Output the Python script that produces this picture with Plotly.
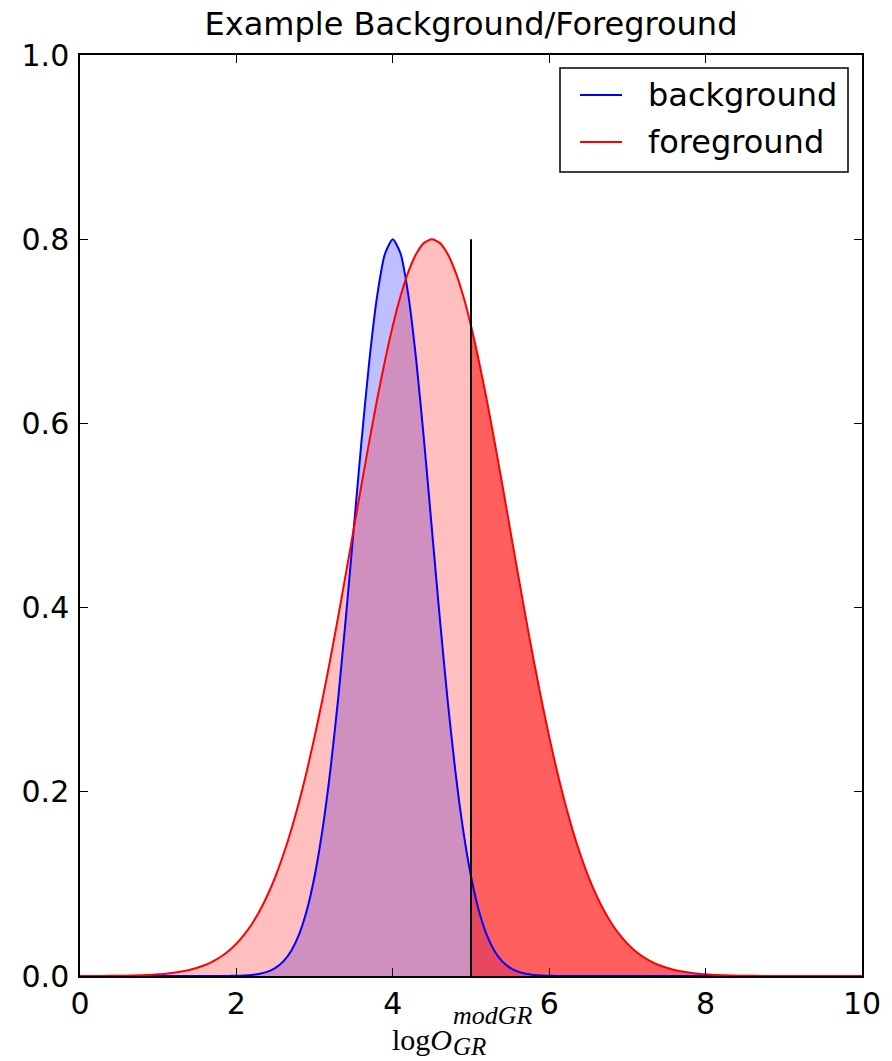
import plotly.graph_objects as go

# ---- data ----
x_vals = [0.0, 0.1, 0.2, 0.3, 0.4, 0.5, 0.6, 0.7, 0.8, 0.9,
          1.0, 1.1, 1.2, 1.3, 1.4, 1.5, 1.6, 1.7, 1.8, 1.9,
          2.0, 2.1, 2.2, 2.3, 2.4, 2.5, 2.6, 2.7, 2.8, 2.9,
          3.0, 3.1, 3.2, 3.3, 3.4, 3.5, 3.6, 3.7, 3.8, 3.9,
          4.0, 4.1, 4.2, 4.3, 4.4, 4.5, 4.6, 4.7, 4.8, 4.9,
          5.0, 5.1, 5.2, 5.3, 5.4, 5.5, 5.6, 5.7, 5.8, 5.9,
          6.0, 6.1, 6.2, 6.3, 6.4, 6.5, 6.6, 6.7, 6.8, 6.9,
          7.0, 7.1, 7.2, 7.3, 7.4, 7.5, 7.6, 7.7, 7.8, 7.9,
          8.0, 8.1, 8.2, 8.3, 8.4, 8.5, 8.6, 8.7, 8.8, 8.9,
          9.0, 9.1, 9.2, 9.3, 9.4, 9.5, 9.6, 9.7, 9.8, 9.9,
          10.0]
background = [0, 0, 0, 0, 0, 0, 0, 0, 0, 0,
              0, 0, 0, 0, 0, 0, 0, 0, 0, 0.0001,
              0.0003, 0.0006, 0.0012, 0.0025, 0.0048, 0.0089, 0.0159, 0.0272, 0.0449, 0.0711,
              0.1083, 0.1583, 0.2224, 0.3002, 0.3894, 0.4852, 0.5809, 0.6682, 0.7385, 0.7842,
              0.8000, 0.7842, 0.7385, 0.6682, 0.5809, 0.4852, 0.3894, 0.3002, 0.2224, 0.1583,
              0.1083, 0.0711, 0.0449, 0.0272, 0.0159, 0.0089, 0.0048, 0.0025, 0.0012, 0.0006,
              0.0003, 0.0001, 0, 0, 0, 0, 0, 0, 0, 0,
              0, 0, 0, 0, 0, 0, 0, 0, 0, 0,
              0, 0, 0, 0, 0, 0, 0, 0, 0, 0,
              0, 0, 0, 0, 0, 0, 0, 0, 0, 0,
              0]
foreground = [0, 0.0001, 0.0001, 0.0001, 0.0002, 0.0003, 0.0004, 0.0006, 0.0009, 0.0012,
              0.0018, 0.0025, 0.0035, 0.0048, 0.0066, 0.0089, 0.0119, 0.0159, 0.0209, 0.0272,
              0.0351, 0.0449, 0.0568, 0.0711, 0.0882, 0.1083, 0.1316, 0.1583, 0.1886, 0.2224,
              0.2598, 0.3002, 0.3437, 0.3894, 0.4369, 0.4852, 0.5336, 0.5809, 0.6262, 0.6682,
              0.7060, 0.7385, 0.7648, 0.7842, 0.7960, 0.8000, 0.7960, 0.7842, 0.7648, 0.7385,
              0.7060, 0.6682, 0.6262, 0.5809, 0.5336, 0.4852, 0.4369, 0.3894, 0.3437, 0.3002,
              0.2598, 0.2224, 0.1886, 0.1583, 0.1316, 0.1083, 0.0882, 0.0711, 0.0568, 0.0449,
              0.0351, 0.0272, 0.0209, 0.0159, 0.0119, 0.0089, 0.0066, 0.0048, 0.0035, 0.0025,
              0.0018, 0.0012, 0.0009, 0.0006, 0.0004, 0.0003, 0.0002, 0.0001, 0.0001, 0.0001,
              0, 0, 0, 0, 0, 0, 0, 0, 0, 0,
              0]
threshold = 5.0
threshold_top = 0.8
series_names = ["background", "foreground"]
x_ticks = [0, 2, 4, 6, 8, 10]
y_ticks = [0.0, 0.2, 0.4, 0.6, 0.8, 1.0]

BLUE = "#0000ff"
RED = "#ff0000"

fig = go.Figure()

# fills
fig.add_trace(go.Scatter(x=x_vals, y=background, mode="lines", line=dict(width=0, shape="spline", smoothing=0.6),
                         fill="tozeroy", fillcolor="rgba(0,0,255,0.25)", showlegend=False, hoverinfo="skip"))
fig.add_trace(go.Scatter(x=x_vals, y=foreground, mode="lines", line=dict(width=0, shape="spline", smoothing=0.6),
                         fill="tozeroy", fillcolor="rgba(255,0,0,0.25)", showlegend=False, hoverinfo="skip"))
x_right = [x for x in x_vals if x >= threshold]
fg_right = [f for x, f in zip(x_vals, foreground) if x >= threshold]
fig.add_trace(go.Scatter(x=x_right, y=fg_right, mode="lines", line=dict(width=0, shape="spline", smoothing=0.6),
                         fill="tozeroy", fillcolor="rgba(255,0,0,0.5)", showlegend=False, hoverinfo="skip"))

# curves
fig.add_trace(go.Scatter(x=x_vals, y=background, mode="lines", name=series_names[0],
                         line=dict(color=BLUE, width=2, shape="spline", smoothing=0.6), showlegend=False))
fig.add_trace(go.Scatter(x=x_vals, y=foreground, mode="lines", name=series_names[1],
                         line=dict(color=RED, width=2, shape="spline", smoothing=0.6), showlegend=False))

# threshold line
fig.add_trace(go.Scatter(x=[threshold, threshold], y=[0, threshold_top], mode="lines",
                         line=dict(color="black", width=2), showlegend=False))

L, R, T, B = 80, 30, 55, 85
W, H = 892, 1061
pw, ph = W - L - R, H - T - B

def px2x(px):
    return (px - L) / pw

def px2y(py):
    return (H - B - py) / ph

shapes = []
annotations = []
# legend box
shapes.append(dict(type="rect", xref="paper", yref="paper", x0=px2x(560), x1=px2x(848),
                   y0=px2y(172), y1=px2y(68), line=dict(color="black", width=1.5),
                   fillcolor="white", layer="above"))
for nm, col, yy in [(series_names[0], BLUE, 95), (series_names[1], RED, 142)]:
    shapes.append(dict(type="line", xref="paper", yref="paper", x0=px2x(580), x1=px2x(622),
                       y0=px2y(yy), y1=px2y(yy), line=dict(color=col, width=2), layer="above"))
    annotations.append(dict(text=nm, xref="paper", yref="paper", x=px2x(646), y=px2y(yy),
                            xanchor="left", yanchor="middle", showarrow=False,
                            font=dict(family="DejaVu Sans", size=32, color="black")))

# x label (math style)
annotations.append(dict(text="log<i>O</i>", xref="paper", yref="paper", x=px2x(454), y=px2y(1039),
                        xanchor="right", yanchor="middle", showarrow=False,
                        font=dict(family="Liberation Serif", size=30, color="black")))
annotations.append(dict(text="<i>modGR</i>", xref="paper", yref="paper", x=px2x(451), y=px2y(1015),
                        xanchor="left", yanchor="middle", showarrow=False,
                        font=dict(family="Liberation Serif", size=26, color="black")))
annotations.append(dict(text="<i>GR</i>", xref="paper", yref="paper", x=px2x(451), y=px2y(1046),
                        xanchor="left", yanchor="middle", showarrow=False,
                        font=dict(family="Liberation Serif", size=25, color="black")))

fig.update_layout(
    width=W, height=H,
    margin=dict(l=L, r=R, t=T, b=B, autoexpand=False),
    paper_bgcolor="white", plot_bgcolor="white",
    title=dict(text="Example Background/Foreground", x=px2x(471), xref="paper", xanchor="center",
               y=1 - 24 / H, yref="container", yanchor="middle",
               font=dict(family="DejaVu Sans", size=32, color="black")),
    shapes=shapes, annotations=annotations,
    xaxis=dict(range=[0, 10], tickvals=x_ticks, ticktext=[str(v) for v in x_ticks],
               ticks="inside", ticklen=8, tickwidth=1, tickcolor="black",
               showline=True, linecolor="black", linewidth=1.5, mirror="ticks",
               showgrid=False, zeroline=False,
               tickfont=dict(family="DejaVu Sans", size=30, color="black")),
    yaxis=dict(range=[0, 1.0], tickvals=y_ticks, ticktext=["%.1f" % v for v in y_ticks],
               ticks="inside", ticklen=8, tickwidth=1, tickcolor="black",
               showline=True, linecolor="black", linewidth=1.5, mirror="ticks",
               showgrid=False, zeroline=False, ticklabelstandoff=3,
               tickfont=dict(family="DejaVu Sans", size=30, color="black")),
)

fig.write_html("out.html", config={"displayModeBar": False},
               post_script="document.body.style.margin='0';document.body.style.overflow='hidden';")
